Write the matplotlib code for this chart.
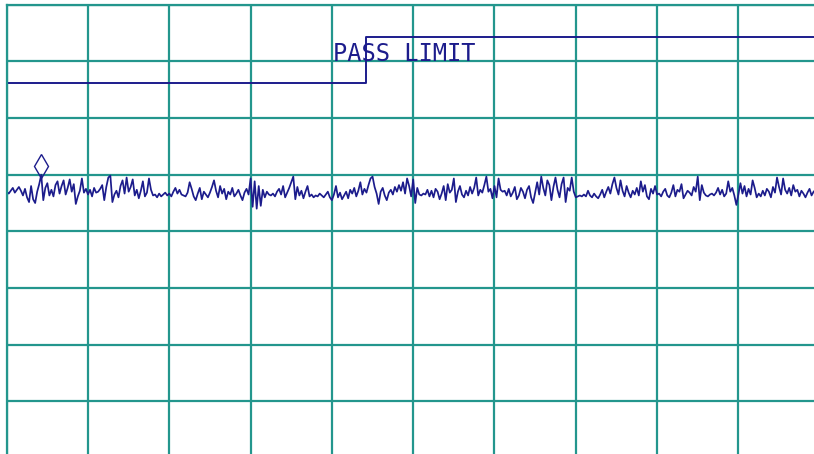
import numpy as np
import matplotlib.pyplot as plt
from matplotlib.transforms import offset_copy

# sweep span (MHz) and screen scale
span_start, span_stop = 0, 1000
ref_level = -13.2
db_per_div = 6
n_div = 8

# measured trace, dBm (401 sweep points)
trace = [
    -33.0, -33.2, -32.9, -32.6, -33.1, -32.8, -32.5, -32.9, -33.4, -32.7, -33.6, -34.1, -32.4, -33.8, -34.2, -33.0, -32.2, -31.2, -33.9, -32.6,
    -32.1, -33.4, -32.8, -33.5, -32.3, -31.9, -33.2, -32.4, -31.8, -33.3, -32.6, -31.7, -33.0, -32.2, -34.3, -33.5, -32.9, -31.6, -33.1, -32.7,
    -33.3, -32.8, -33.5, -32.6, -33.1, -33.0, -32.7, -32.3, -33.9, -32.5, -31.5, -31.3, -34.1, -33.3, -32.9, -33.6, -32.4, -31.8, -33.2, -31.5,
    -33.0, -32.5, -31.7, -33.4, -32.8, -33.7, -32.9, -31.9, -33.5, -33.1, -31.6, -32.8, -33.4, -33.3, -33.6, -33.2, -33.5, -33.3, -33.1, -33.4,
    -33.2, -33.5, -33.0, -32.6, -33.2, -32.8, -33.3, -33.4, -33.5, -33.1, -32.0, -32.7, -33.5, -33.9, -33.2, -32.6, -33.8, -33.0, -33.3, -33.6,
    -33.1, -32.5, -31.8, -32.9, -33.6, -32.4, -33.2, -32.7, -33.8, -33.0, -33.3, -32.6, -33.5, -33.2, -32.8, -33.4, -33.9, -33.1, -32.7, -33.3,
    -31.6, -34.6, -31.9, -34.8, -32.4, -34.5, -32.8, -33.6, -33.0, -33.3, -33.4, -33.2, -33.5, -33.0, -32.7, -33.3, -32.4, -33.6, -33.1, -32.6,
    -32.0, -31.4, -33.8, -32.5, -33.4, -32.9, -33.7, -33.0, -32.4, -33.5, -33.3, -33.6, -33.4, -33.5, -33.2, -33.4, -33.6, -33.3, -33.0, -33.6,
    -33.9, -33.3, -32.4, -33.6, -33.1, -33.8, -33.4, -33.0, -33.7, -32.8, -33.2, -32.6, -33.5, -32.9, -32.0, -33.3, -32.7, -33.1, -32.3, -31.6,
    -31.4, -32.5, -33.2, -34.3, -33.0, -32.6, -33.4, -33.9, -33.1, -32.8, -33.3, -32.5, -33.0, -32.3, -32.9, -32.0, -33.2, -31.6, -32.4, -33.5,
    -31.7, -34.2, -32.6, -33.3, -33.4, -33.2, -33.3, -32.8, -33.5, -32.9, -33.6, -32.7, -33.0, -33.8, -33.2, -32.4, -33.9, -32.2, -33.1, -32.8,
    -31.6, -34.1, -33.0, -32.4, -33.3, -33.6, -32.9, -33.4, -32.5, -33.2, -32.6, -31.5, -33.4, -32.8, -33.1, -32.3, -31.4, -33.0, -32.7, -33.7,
    -32.4, -33.6, -31.6, -32.8, -33.0, -32.9, -33.4, -32.7, -33.5, -33.1, -32.5, -33.8, -33.4, -32.6, -33.0, -33.7, -32.8, -32.4, -33.6, -34.2,
    -33.1, -32.0, -33.3, -31.4, -32.6, -33.4, -31.8, -32.3, -33.9, -32.5, -31.5, -32.8, -33.6, -32.2, -31.5, -34.1, -32.6, -32.9, -31.5, -33.0,
    -33.6, -33.5, -33.4, -33.5, -33.3, -33.5, -32.9, -33.4, -33.6, -33.2, -33.5, -33.7, -33.3, -32.8, -33.6, -33.0, -32.5, -33.2, -32.2, -31.5,
    -32.6, -33.3, -31.8, -32.9, -33.5, -32.4, -33.1, -33.6, -32.9, -33.3, -32.6, -33.4, -31.9, -33.0, -32.3, -33.5, -33.8, -32.7, -33.2, -32.4,
    -33.3, -33.2, -33.5, -33.0, -32.7, -33.4, -33.6, -33.1, -32.3, -33.5, -32.8, -33.0, -32.2, -33.7, -33.3, -32.9, -33.1, -33.4, -32.5, -33.0,
    -31.4, -33.9, -32.3, -33.1, -33.4, -33.5, -33.3, -33.2, -33.4, -33.1, -32.6, -33.3, -32.8, -33.5, -33.2, -31.9, -33.0, -32.6, -33.4, -34.4,
    -33.3, -32.1, -33.2, -32.4, -33.5, -32.7, -33.3, -31.8, -32.6, -33.6, -33.2, -33.5, -32.9, -33.4, -32.7, -33.0, -33.6, -32.5, -33.1, -31.5,
    -32.5, -33.3, -31.6, -32.8, -33.2, -32.6, -33.4, -32.3, -33.0, -32.8, -33.5, -32.9, -33.2, -33.6, -33.1, -32.7, -33.4, -33.0, -32.8, -33.2,
    -33.0,
]

# pass limit line (two-level mask)
limit_freq = [0, 441.5, 441.5, 1000]
limit_level = [-21.5, -21.5, -16.6, -16.6]
limit_label = 'PASS LIMIT'
label_pos = (401, -19.2)

marker_index = 17  # peak marker

grid_color = '#23968d'
trace_color = '#1c1c8c'

freq = np.linspace(span_start, span_stop, len(trace))
bottom_level = ref_level - n_div * db_per_div

fig = plt.figure(figsize=(8.14, 4.54), dpi=100)
# screen graticule runs slightly past the right and bottom edges
ax = fig.add_axes([6.7 / 814, 1 - 458 / 454, 813 / 814, 453.3 / 454])
ax.set_xlim(span_start, span_stop)
ax.set_ylim(bottom_level, ref_level)

ax.set_xticks(np.linspace(span_start, span_stop, 11))
ax.set_yticks(np.linspace(bottom_level, ref_level, n_div + 1))
ax.grid(True, color=grid_color, linewidth=1.6)
ax.tick_params(length=0, labelbottom=False, labelleft=False)
for side in ax.spines.values():
    side.set_color(grid_color)
    side.set_linewidth(1.6)

ax.plot(freq, trace, color=trace_color, linewidth=1.25)
ax.plot(limit_freq, limit_level, color=trace_color, linewidth=1.4)

# marker diamond sits just above the peak
mk_trans = offset_copy(ax.transData, fig=fig, x=0, y=9, units='dots')
ax.plot(freq[marker_index], trace[marker_index], marker='d', markersize=12,
        markerfacecolor='none', markeredgecolor=trace_color, markeredgewidth=1.0,
        transform=mk_trans)

ax.text(label_pos[0], label_pos[1], limit_label, color=trace_color,
        family='DejaVu Sans Mono', fontsize=17, va='baseline', ha='left')

fig.savefig('out.png', dpi=100)
